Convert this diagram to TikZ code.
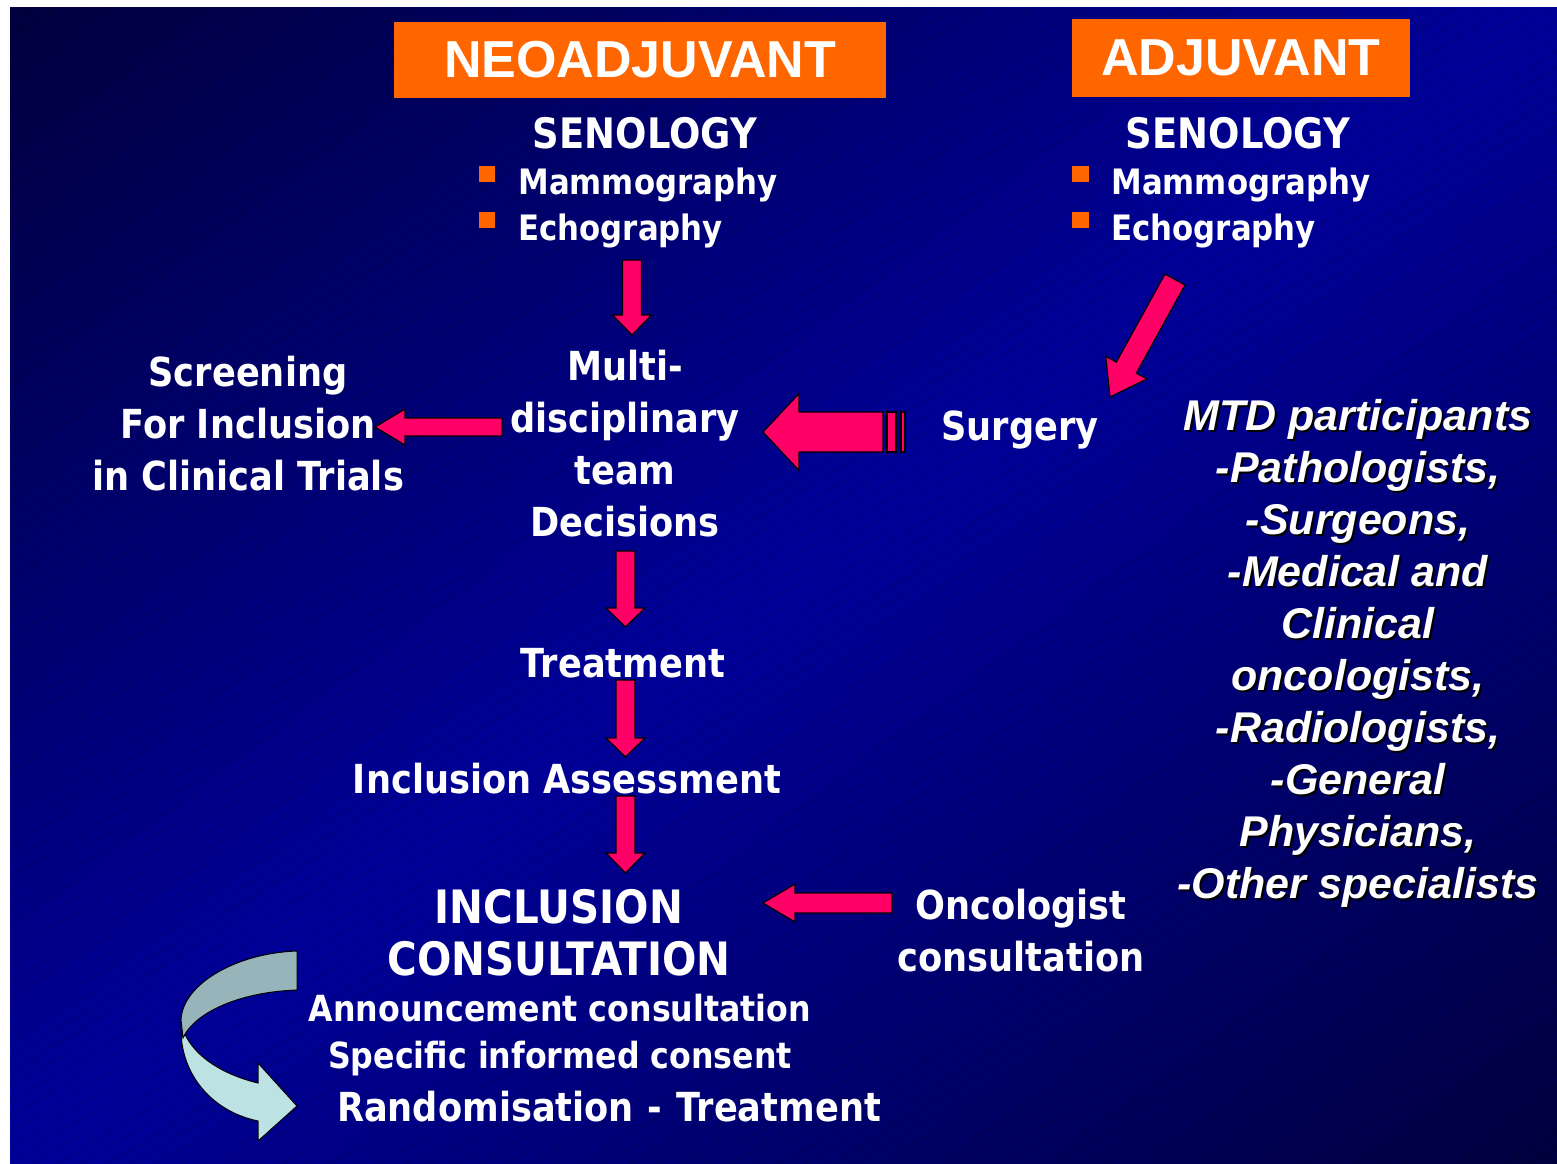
\documentclass[tikz,border=0pt]{standalone}
\usepackage{fontspec}
\setmainfont{DejaVu Sans}
\newfontfamily\tah{DejaVu Sans}[FakeStretch=0.88]
\newfontfamily\ari{Liberation Sans}
\definecolor{bgdark}{RGB}{0,0,62}
\definecolor{bgbright}{RGB}{0,0,153}
\definecolor{myorange}{RGB}{255,102,0}
\definecolor{mypink}{RGB}{255,0,102}
\definecolor{ribgray}{RGB}{150,180,185}
\definecolor{riblight}{RGB}{188,226,228}
\newcommand\blkdown[4]{% x, top, head base, tip
  \filldraw[blk] (#1-9.5,#2) -- (#1+9.5,#2) -- (#1+9.5,#3) -- (#1+19.5,#3) -- (#1,#4) -- (#1-19.5,#3) -- (#1-9.5,#3) -- cycle;}
\newcommand\blkleft[6]{% tail x, y, shaft half, head base x, head half, tip x
  \filldraw[blk] (#1,#2-#3) -- (#4,#2-#3) -- (#4,#2-#5) -- (#6,#2) -- (#4,#2+#5) -- (#4,#2+#3) -- (#1,#2+#3) -- cycle;}
\begin{document}
\begin{tikzpicture}[x=0.5pt,y=-0.5pt,
  txt/.style={text=white, inner sep=0pt, align=center, font=\tah\bfseries\fontsize{20}{26}\selectfont},
  bigtxt/.style={text=white, inner sep=0pt, align=center, font=\tah\bfseries\fontsize{23}{26}\selectfont},
  smalltxt/.style={text=white, inner sep=0pt, align=center, font=\tah\bfseries\fontsize{18}{23.5}\selectfont},
  sentxt/.style={text=white, inner sep=0pt, anchor=base, font=\tah\bfseries\fontsize{21}{26}\selectfont},
  bul/.style={text=white, inner sep=0pt, anchor=base west, font=\tah\bfseries\fontsize{17.5}{23}\selectfont},
  hdr/.style={fill=myorange, text=white, inner sep=0pt, font=\ari\bfseries\fontsize{26}{30}\selectfont},
  mtd/.style={inner sep=0pt, align=center, font=\ari\bfseries\itshape\fontsize{21.5}{26}\selectfont},
  blk/.style={fill=mypink, draw=black, line width=0.6pt, line join=miter},
  rib/.style={draw=black, line width=0.5pt},
  sq/.style={fill=myorange}
]
\useasboundingbox (0,0) rectangle (1557,1163);
% background
\begin{scope}
\clip (10,7) rectangle (1557,1163);
\foreach \i in {0,...,59}{
  \pgfmathsetmacro\a{\i/60}
  \pgfmathsetmacro\b{(\i+1.05)/60}
  \pgfmathsetmacro\p{100*(1-abs(2*(\i+0.5)/60-1))}
  \fill[bgbright!\p!bgdark] (10-1547,{7+1156*(2*\a+1)}) -- (10+2*1547,{7+1156*(2*\a-2)})
     -- (10+2*1547,{7+1156*(2*\b-2)}) -- (10-1547,{7+1156*(2*\b+1)}) -- cycle;
}
\foreach \c in {7,22,...,2100}{
  \draw[black, opacity=0.16, line width=0.4pt] (10,\c) -- (1557,\c-930);
}
\end{scope}

% headers
\node[hdr, minimum width=246pt, minimum height=38pt] (neo) at (640,60) {NEOADJUVANT};
\node[hdr, minimum width=169pt, minimum height=39pt] (adj) at (1241,58) {ADJUVANT};

% senology
\node[sentxt] (sen1) at (645,148) {SENOLOGY};
\node[sentxt] (sen2) at (1238,148) {SENOLOGY};
\fill[sq] (479,166) rectangle (495,182);
\fill[sq] (479,212) rectangle (495,228);
\fill[sq] (1072,166) rectangle (1089,182);
\fill[sq] (1072,212) rectangle (1089,228);
\node[bul] (mam1) at (518,194) {Mammography};
\node[bul] (ech1) at (518,240) {Echography};
\node[bul] (mam2) at (1111,194) {Mammography};
\node[bul] (ech2) at (1111,240) {Echography};

% main flow texts
\node[txt] (mdt) at (625,444) {Multi-\\disciplinary\\team\\Decisions};
\node[txt] (scr) at (248,424) {Screening\\For Inclusion\\in Clinical Trials};
\node[txt, anchor=base] (surg) at (1020,440) {Surgery};
\node[txt, anchor=base] (treat) at (623,677) {Treatment};
\node[txt, anchor=base] (incass) at (567,793) {Inclusion Assessment};
\node[bigtxt] (incl) at (559,933) {INCLUSION\\CONSULTATION};
\node[smalltxt] (ann) at (560,1035) {Announcement consultation\\Specific informed consent};
\node[txt, anchor=base] (rand) at (609,1121) {Randomisation\hspace{7pt}-\hspace{7pt}Treatment};
\node[txt] (onc) at (1021,931) {Oncologist\\consultation};

% MTD participants
\node[mtd, text=black] (mtdsh) at (1360,655) {MTD participants\\-Pathologists,\\-Surgeons,\\-Medical and\\Clinical\\oncologists,\\-Radiologists,\\-General\\Physicians,\\-Other specialists};
\node[mtd, text=white] (mtdp) at (1358,653) {MTD participants\\-Pathologists,\\-Surgeons,\\-Medical and\\Clinical\\oncologists,\\-Radiologists,\\-General\\Physicians,\\-Other specialists};

% down arrows
\blkdown{632}{260}{315}{335}
\blkdown{625.5}{551}{608}{627}
\blkdown{625.5}{680}{738}{757}
\blkdown{625.5}{796}{853}{873}

% left arrows
\blkleft{502}{427}{9}{405}{18}{375}
\blkleft{883}{432}{20}{799}{38.5}{763}
\filldraw[blk] (887,412) rectangle (896,452);
\filldraw[blk] (901,412) rectangle (905,452);
\blkleft{892}{903}{10}{795}{19}{763}

% diagonal arrow
\filldraw[blk] (1185,285) -- (1136.3,373.1) -- (1146.9,379.0) -- (1110,397) -- (1105.7,356.2) -- (1116.3,362.1) -- (1165,274) -- cycle;

% curved arrow
\filldraw[rib, fill=riblight] (181,1018) -- (181.5,1040) .. controls (186,1080) and (215,1112) .. (258,1121)
   -- (258,1141) -- (297,1106) -- (258,1063) -- (258,1083)
   .. controls (225,1075) and (195,1058) .. (184,1032) -- cycle;
\filldraw[rib, fill=ribgray] (297,951) .. controls (235,953) and (182,985) .. (181,1020)
   -- (183,1038) .. controls (195,1012) and (240,992) .. (297,990) -- cycle;
\end{tikzpicture}
\end{document}
